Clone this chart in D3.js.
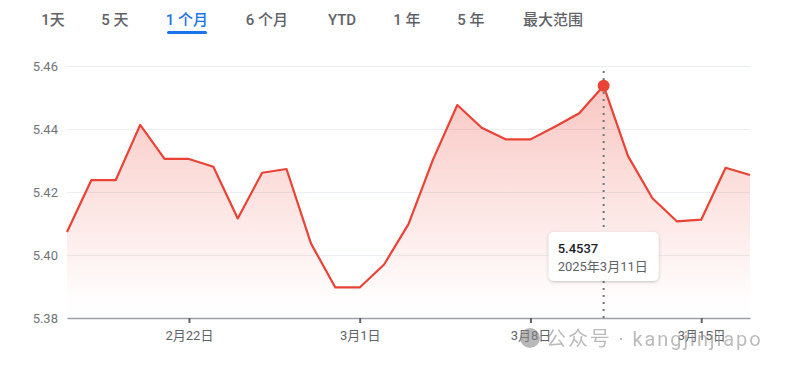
<!DOCTYPE html>
<html>
<head>
<meta charset="utf-8">
<script src="https://cdn.jsdelivr.net/npm/d3@7"></script>
<style>
  body { margin: 0; background: #fff; font-family: Roboto, "Noto Sans CJK SC", sans-serif; }
  svg text { font-family: Roboto, "Noto Sans CJK SC", sans-serif; }
</style>
</head>
<body>
<div id="chart"></div>
<script>
var svgWidth = 786;
var svgHeight = 367;

// range tabs
var tabs = ["1天", "5 天", "1 个月", "6 个月", "YTD", "1 年", "5 年", "最大范围"];
var tabX = [53, 115, 187, 267, 342, 407, 471, 553];
var activeTab = 2;

// daily values, 2025-02-17 .. 2025-03-17
var dates = ["2025-02-17", "2025-02-18", "2025-02-19", "2025-02-20", "2025-02-21", "2025-02-22",
  "2025-02-23", "2025-02-24", "2025-02-25", "2025-02-26", "2025-02-27", "2025-02-28",
  "2025-03-01", "2025-03-02", "2025-03-03", "2025-03-04", "2025-03-05", "2025-03-06",
  "2025-03-07", "2025-03-08", "2025-03-09", "2025-03-10", "2025-03-11", "2025-03-12",
  "2025-03-13", "2025-03-14", "2025-03-15", "2025-03-16", "2025-03-17"];
var rates = [5.4073, 5.4238, 5.4238, 5.4413, 5.4305, 5.4305,
  5.4280, 5.4116, 5.4261, 5.4273, 5.4037, 5.3897,
  5.3897, 5.3970, 5.4098, 5.4302, 5.4476, 5.4404,
  5.4367, 5.4367, 5.4407, 5.4450, 5.4537, 5.4314,
  5.4180, 5.4107, 5.4112, 5.4277, 5.4254];

var yTicks = [5.38, 5.40, 5.42, 5.44, 5.46];
var xTickDates = ["2025-02-22", "2025-03-01", "2025-03-08", "2025-03-15"];
var hoverDate = "2025-03-11";

var margin = { top: 66, right: 36, bottom: 49, left: 67 };
var width = svgWidth - margin.left - margin.right;
var height = svgHeight - margin.top - margin.bottom;

var parse = d3.timeParse("%Y-%m-%d");
var data = dates.map(function(d, i) { return { date: parse(d), value: rates[i] }; });

var svg = d3.select("#chart")
  .append("svg")
  .attr("width", svgWidth)
  .attr("height", svgHeight);

// tabs
var tabG = svg.append("g");
tabG.selectAll("text").data(tabs).enter()
  .append("text")
  .attr("x", (d, i) => tabX[i])
  .attr("y", 25)
  .attr("text-anchor", "middle")
  .attr("font-size", "15px")
  .attr("font-weight", 500)
  .attr("fill", (d, i) => i === activeTab ? "#1a73e8" : "#5f6368")
  .text(d => d);
tabG.append("rect")
  .attr("x", tabX[activeTab] - 20)
  .attr("y", 31)
  .attr("width", 40)
  .attr("height", 3)
  .attr("rx", 1.5)
  .attr("fill", "#1a73e8");

var chartGroup = svg.append("g")
  .attr("transform", `translate(${margin.left}, ${margin.top})`);

var xScale = d3.scaleTime()
  .domain(d3.extent(data, d => d.date))
  .range([0, width]);

var yScale = d3.scaleLinear()
  .domain([5.38, 5.46])
  .range([height, 0]);

// gradient for the area
var defs = svg.append("defs");
var grad = defs.append("linearGradient")
  .attr("id", "areaFill")
  .attr("x1", 0).attr("y1", 0).attr("x2", 0).attr("y2", 1);
grad.append("stop").attr("offset", "0%").attr("stop-color", "#ea4335").attr("stop-opacity", 0.3);
grad.append("stop").attr("offset", "92%").attr("stop-color", "#ea4335").attr("stop-opacity", 0.01);
grad.append("stop").attr("offset", "100%").attr("stop-color", "#ea4335").attr("stop-opacity", 0);

var filt = defs.append("filter").attr("id", "shadow").attr("x", "-20%").attr("y", "-20%").attr("width", "140%").attr("height", "160%");
filt.append("feDropShadow").attr("dx", 0).attr("dy", 1).attr("stdDeviation", 1.5)
  .attr("flood-color", "#3c4043").attr("flood-opacity", 0.3);

// gridlines
chartGroup.append("g")
  .call(d3.axisLeft(yScale).tickValues(yTicks).tickSize(-width).tickFormat(""))
  .call(g => g.select(".domain").remove())
  .call(g => g.selectAll("line").attr("stroke", "#eceff1").attr("stroke-width", 1));

// y labels
chartGroup.append("g")
  .call(d3.axisLeft(yScale).tickValues(yTicks).tickSize(0).tickPadding(9).tickFormat(d3.format(".2f")))
  .call(g => g.select(".domain").remove())
  .call(g => g.selectAll("text").attr("font-size", "13px").attr("fill", "#70757a"));

// area + line
var area = d3.area()
  .x(d => xScale(d.date))
  .y0(height)
  .y1(d => yScale(d.value));
var line = d3.line()
  .x(d => xScale(d.date))
  .y(d => yScale(d.value));

chartGroup.append("path")
  .datum(data)
  .attr("fill", "url(#areaFill)")
  .attr("d", area);

chartGroup.append("path")
  .datum(data)
  .attr("fill", "none")
  .attr("stroke", "#ea4335")
  .attr("stroke-width", 2.2)
  .attr("stroke-linejoin", "round")
  .attr("d", line);

// x axis
chartGroup.append("g")
  .attr("transform", `translate(0, ${height})`)
  .call(d3.axisBottom(xScale)
    .tickValues(xTickDates.map(parse))
    .tickSize(5)
    .tickSizeOuter(0)
    .tickPadding(8)
    .tickFormat(d => (d.getMonth() + 1) + "月" + d.getDate() + "日"))
  .call(g => g.select(".domain").attr("stroke", "#9aa0a6").attr("stroke-width", 1.5))
  .call(g => g.selectAll("line").attr("stroke", "#5f6368").attr("stroke-width", 2))
  .call(g => g.selectAll("text").attr("font-size", "13px").attr("fill", "#5f6368"));

// hover marker
var hd = data.find(d => +d.date === +parse(hoverDate));
var hx = xScale(hd.date);
chartGroup.append("line")
  .attr("x1", hx).attr("x2", hx)
  .attr("y1", 5).attr("y2", height)
  .attr("stroke", "#70757a")
  .attr("stroke-width", 2)
  .attr("stroke-dasharray", "2,5");
chartGroup.append("circle")
  .attr("cx", hx)
  .attr("cy", yScale(hd.value))
  .attr("r", 6)
  .attr("fill", "#ea4335");

// tooltip
var tip = chartGroup.append("g")
  .attr("transform", `translate(${hx - 55}, ${166})`);
tip.append("rect")
  .attr("width", 110)
  .attr("height", 49)
  .attr("rx", 5)
  .attr("fill", "#fff")
  .attr("filter", "url(#shadow)");
tip.append("text")
  .attr("x", 9).attr("y", 21)
  .attr("font-size", "13px")
  .attr("font-weight", 500)
  .attr("fill", "#202124")
  .text(hd.value.toFixed(4));
tip.append("text")
  .attr("x", 9).attr("y", 39)
  .attr("font-size", "13px")
  .attr("fill", "#5f6368")
  .text(d3.timeFormat("%Y")(hd.date) + "年" + (hd.date.getMonth() + 1) + "月" + hd.date.getDate() + "日");

// watermark
var wm = svg.append("g").attr("opacity", 0.6);
wm.append("circle").attr("cx", 530).attr("cy", 338).attr("r", 10).attr("fill", "#8a8a8a");
wm.append("text")
  .attr("x", 546).attr("y", 346)
  .attr("font-size", "20px")
  .attr("fill", "#8f8f8f")
  .attr("letter-spacing", "1.9px")
  .text("公众号 · kangjinjiapo");
</script>
</body>
</html>
